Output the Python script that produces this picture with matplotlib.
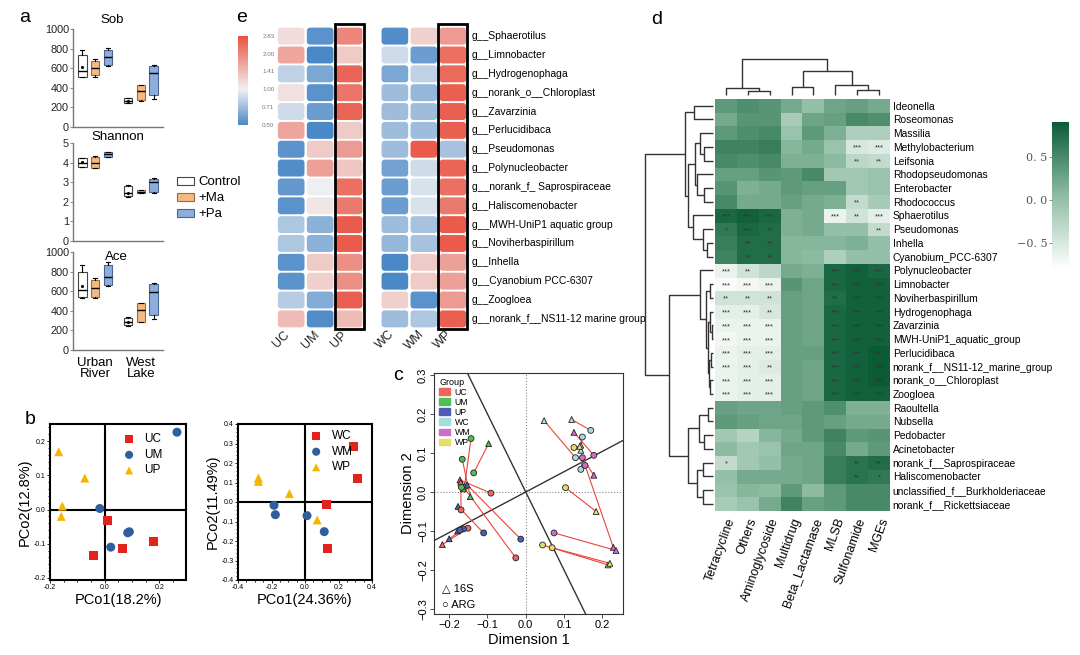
import matplotlib
matplotlib.use("Agg")
import matplotlib.pyplot as plt
import numpy as np
from matplotlib.colors import LinearSegmentedColormap, Normalize
from matplotlib.patches import FancyBboxPatch, Patch, Rectangle
from matplotlib.cm import ScalarMappable

W, H = 1080, 655
plt.rcParams['font.family'] = ['Liberation Sans', 'DejaVu Sans']
NARROW = ['Liberation Sans Narrow', 'Liberation Sans', 'DejaVu Sans']

# ---------------- panel a: alpha diversity boxes ----------------
sites = ['Urban\nRiver', 'West\nLake']
treatments = ['Control', '+Ma', '+Pa']
trt_fill = ['white', '#F6B97F', '#8DAEDC']
trt_edge = ['#444444', '#9A6A3A', '#4A6590']
# (whislo, q1, median, q3, whishi[, mean]) for Urban River, West Lake
sob_control = [(513, 514, 571, 735, 786, 615), (242, 245, 268, 293, 296, 270)]
sob_ma = [(513, 530, 598, 673, 694), (265, 276, 371, 429, 432)]
sob_pa = [(622, 633, 711, 786, 809), (283, 327, 548, 626, 630)]
shannon_control = [(3.77, 3.79, 4.0, 4.22, 4.25, 4.02), (2.25, 2.3, 2.45, 2.8, 2.85, 2.45)]
shannon_ma = [(3.71, 3.71, 3.96, 4.3, 4.36), (2.45, 2.46, 2.52, 2.6, 2.62)]
shannon_pa = [(4.3, 4.3, 4.42, 4.52, 4.55), (2.43, 2.52, 3.0, 3.16, 3.2)]
ace_control = [(527, 544, 612, 799, 867, 653), (245, 255, 289, 323, 340, 290)]
ace_ma = [(527, 544, 629, 714, 738), (282, 285, 408, 476, 483)]
ace_pa = [(653, 663, 748, 867, 898), (313, 357, 588, 673, 683)]

# ---------------- panel b: PCoA ----------------
uc_x = [0.009, -0.04, 0.066, 0.177]
uc_y = [-0.032, -0.133, -0.114, -0.093]
um_x = [-0.018, 0.022, 0.084, 0.09, 0.264]
um_y = [0.003, -0.11, -0.068, -0.065, 0.226]
up_x = [-0.168, -0.073, -0.155, -0.159]
up_y = [0.169, 0.092, 0.01, -0.02]
wc_x = [0.288, 0.314, 0.129, 0.137]
wc_y = [0.287, 0.12, -0.013, -0.241]
wm_x = [-0.185, -0.177, 0.012, 0.115]
wm_y = [-0.017, -0.065, -0.07, -0.152]
wp_x = [-0.278, -0.278, -0.093, 0.073]
wp_y = [0.123, 0.106, 0.043, -0.092]

# ---------------- panel c: Procrustes ----------------
c_groups = ['UC', 'UM', 'UP', 'WC', 'WM', 'WP']
c_colors = ['#EE655B', '#4FBE55', '#4B5EB4', '#A3DEDD', '#CF6BCB', '#E4DE62']
c_group_idx = [0, 0, 0, 0, 1, 1, 1, 1, 2, 2, 2, 2, 3, 3, 3, 3, 4, 4, 4, 4, 5, 5, 5, 5]
c_16s_x = [-0.172, -0.168, -0.218, -0.17, -0.16, -0.097, -0.145, -0.163,
           -0.153, -0.177, -0.2, -0.178, 0.048, 0.12, 0.144, 0.144,
           0.126, 0.178, 0.229, 0.236, 0.184, 0.215, 0.22, 0.141]
c_16s_y = [0.031, 0.02, -0.135, 0.025, 0.015, 0.124, -0.012, 0.008,
           0.018, -0.037, -0.12, -0.1, 0.183, 0.186, 0.107, 0.12,
           0.153, 0.043, -0.142, -0.15, -0.05, -0.187, -0.183, 0.117]
c_arg_x = [-0.091, -0.026, -0.151, -0.169, -0.143, -0.136, -0.166, -0.168,
           -0.013, -0.11, -0.163, -0.172, 0.13, 0.17, 0.144, 0.148,
           0.178, 0.148, 0.155, 0.074, 0.104, 0.044, 0.069, 0.126]
c_arg_y = [-0.003, -0.169, -0.093, -0.046, 0.137, 0.049, 0.084, 0.012,
           -0.121, -0.105, -0.095, -0.098, 0.088, 0.158, 0.058, 0.141,
           0.094, 0.088, 0.068, -0.105, 0.011, -0.136, -0.143, 0.114]

# ---------------- panel e: fold-change heatmaps (log2) ----------------
e_genera = ['g__Sphaerotilus', 'g__Limnobacter', 'g__Hydrogenophaga', 'g__norank_o__Chloroplast',
            'g__Zavarzinia', 'g__Perlucidibaca', 'g__Pseudomonas', 'g__Polynucleobacter',
            'g__norank_f_ Saprospiraceae', 'g__Haliscomenobacter', 'g__MWH-UniP1 aquatic group',
            'g__Noviherbaspirillum', 'g__Inhella', 'g__Cyanobium PCC-6307', 'g__Zoogloea',
            'g__norank_f__NS11-12 marine group']
e_urban_cols = ['UC', 'UM', 'UP']
e_west_cols = ['WC', 'WM', 'WP']
e_urban = [[0.2, -0.9, 1.0], [0.7, -1.0, 0.35], [-0.3, -0.7, 1.3], [0.15, -0.9, 1.15],
           [-0.2, -0.8, 1.3], [0.7, -1.0, 0.35], [-0.9, 0.35, 0.8], [-0.95, 0.75, 0.4],
           [-0.85, -0.02, 1.2], [-0.9, 0.1, 1.1], [-0.4, -0.6, 1.4], [-0.4, -0.6, 1.4],
           [-0.9, 0.35, 0.9], [-0.9, 0.3, 0.9], [-0.35, -0.65, 1.35], [0.5, -0.95, 0.5]]
e_west = [[-0.95, 0.3, 0.8], [-0.2, -0.8, 1.2], [-0.7, -0.3, 1.25], [-0.5, -0.55, 1.35],
          [-0.5, -0.5, 1.35], [-0.5, -0.5, 1.35], [-0.5, 1.4, -0.45], [-0.75, -0.2, 1.3],
          [-0.8, -0.15, 1.2], [-0.8, -0.15, 1.1], [-0.5, -0.45, 1.4], [-0.55, -0.45, 1.4],
          [-1.0, 0.35, 0.75], [-1.0, 0.35, 0.75], [0.3, -0.9, 0.8], [-0.5, -0.4, 1.35]]
e_ticks = [-1, -0.5, 0, 0.5, 1, 1.5]
e_tick_labels = ['0.50', '0.71', '1.00', '1.41', '2.00', '2.83']

# ---------------- panel d: correlation clustermap ----------------
d_genera = ['Ideonella', 'Roseomonas', 'Massilia', 'Methylobacterium', 'Leifsonia',
            'Rhodopseudomonas', 'Enterobacter', 'Rhodococcus', 'Sphaerotilus', 'Pseudomonas',
            'Inhella', 'Cyanobium_PCC-6307', 'Polynucleobacter', 'Limnobacter',
            'Noviherbaspirillum', 'Hydrogenophaga', 'Zavarzinia', 'MWH-UniP1_aquatic_group',
            'Perlucidibaca', 'norank_f__NS11-12_marine_group', 'norank_o__Chloroplast',
            'Zoogloea', 'Raoultella', 'Nubsella', 'Pedobacter', 'Acinetobacter',
            'norank_f__Saprospiraceae', 'Haliscomenobacter', 'unclassified_f__Burkholderiaceae',
            'norank_f__Rickettsiaceae']
d_args = ['Tetracycline', 'Others', 'Aminoglycoside', 'Multidrug', 'Beta_Lactamase',
          'MLSB', 'Sulfonamide', 'MGEs']
d_corr = [
    [0.35, 0.45, 0.4, 0.2, 0.0, 0.25, 0.3, 0.2],
    [0.2, 0.4, 0.4, -0.15, 0.25, 0.3, 0.5, 0.45],
    [0.35, 0.45, 0.5, -0.05, 0.35, 0.15, -0.2, -0.2],
    [0.55, 0.55, 0.6, 0.1, 0.2, -0.05, -0.5, -0.55],
    [0.5, 0.45, 0.5, 0.15, 0.15, 0.05, -0.3, -0.35],
    [0.3, 0.3, 0.4, 0.35, 0.5, -0.1, -0.1, -0.05],
    [0.4, 0.15, 0.2, 0.35, 0.3, 0.3, -0.1, -0.05],
    [0.5, 0.2, 0.2, 0.3, 0.2, 0.15, -0.35, -0.15],
    [0.8, 0.85, 0.8, 0.15, 0.2, -0.65, -0.45, -0.6],
    [0.65, 0.8, 0.75, 0.15, 0.2, 0.0, 0.0, -0.35],
    [0.6, 0.75, 0.75, 0.1, 0.1, 0.1, 0.15, 0.0],
    [0.55, 0.75, 0.75, 0.1, 0.05, -0.2, 0.0, 0.0],
    [-0.65, -0.45, -0.3, 0.2, 0.15, 0.8, 0.85, 0.8],
    [-0.75, -0.7, -0.65, 0.4, 0.25, 0.8, 0.85, 0.85],
    [-0.45, -0.45, -0.45, 0.3, 0.25, 0.75, 0.85, 0.85],
    [-0.6, -0.6, -0.5, 0.3, 0.25, 0.8, 0.85, 0.85],
    [-0.65, -0.65, -0.65, 0.3, 0.25, 0.8, 0.85, 0.85],
    [-0.7, -0.65, -0.65, 0.3, 0.25, 0.8, 0.85, 0.85],
    [-0.65, -0.6, -0.6, 0.3, 0.3, 0.8, 0.85, 0.9],
    [-0.65, -0.6, -0.55, 0.3, 0.25, 0.8, 0.85, 0.9],
    [-0.65, -0.6, -0.6, 0.3, 0.25, 0.8, 0.85, 0.9],
    [-0.65, -0.6, -0.6, 0.3, 0.25, 0.8, 0.85, 0.85],
    [0.3, 0.25, 0.25, 0.3, 0.35, 0.45, 0.15, 0.15],
    [0.35, 0.3, 0.25, 0.25, 0.35, 0.3, 0.2, 0.2],
    [-0.1, -0.25, 0.1, 0.2, 0.35, 0.55, 0.35, 0.4],
    [0.05, -0.1, -0.05, 0.25, 0.25, 0.5, 0.2, 0.35],
    [-0.35, -0.1, 0.0, 0.2, 0.25, 0.6, 0.7, 0.75],
    [0.0, 0.2, 0.2, 0.2, 0.25, 0.6, 0.7, 0.65],
    [-0.05, 0.1, 0.05, 0.35, 0.05, 0.35, 0.5, 0.5],
    [-0.15, -0.05, 0.2, 0.55, 0.3, 0.35, 0.5, 0.5],
]
S3, S2, S1 = '***', '**', '*'
d_stars = [['']*8 for _ in range(30)]
d_stars[3][6:8] = [S3, S3]
d_stars[4][6:8] = [S2, S2]
d_stars[7][6] = S2
d_stars[8] = [S3, S3, S3, '', '', S3, S2, S3]
d_stars[9] = [S1, S3, S2, '', '', '', '', S2]
d_stars[10] = ['', S2, S2, '', '', '', '', '']
d_stars[11] = ['', S2, S2, '', '', '', '', '']
d_stars[12] = [S3, S2, '', '', '', S3, S3, S3]
d_stars[13] = [S3, S3, S3, '', '', S3, S3, S3]
d_stars[14] = [S2, S2, S2, '', '', S2, S3, S3]
d_stars[15] = [S3, S3, S2, '', '', S3, S3, S3]
d_stars[16] = [S3, S3, S3, '', '', S3, S3, S3]
d_stars[17] = [S3, S3, S3, '', '', S3, S3, S3]
d_stars[18] = [S3, S3, S3, '', '', S3, S3, S3]
d_stars[19] = [S3, S3, S2, '', '', S3, S3, S3]
d_stars[20] = [S3, S3, S3, '', '', S3, S3, S3]
d_stars[21] = [S3, S3, S3, '', '', S3, S3, S3]
d_stars[26] = [S1, '', '', '', '', '', S2, S2]
d_stars[27] = ['', '', '', '', '', '', S2, S1]

# dendrograms: (left, right, height)
top_a = (0, 1, 0.28)
top_b = ((2, (3, 4, 0.13), 0.19), (5, (6, 7, 0.13), 0.24), 0.26)
top_c = (8, (9, (10, 11, 0.09), 0.15), 0.29)
sig_grp = (12, ((13, 14, 0.05), ((15, (16, 17, 0.02), 0.05),
                                 ((18, 19, 0.03), (20, 21, 0.04), 0.06), 0.08), 0.10), 0.19)
low_grp = (((22, 23, 0.07), (24, 25, 0.13), 0.21), ((26, 27, 0.15), (28, 29, 0.15), 0.24), 0.37)
row_tree = ((top_a, (top_b, top_c, 0.37), 0.41), (sig_grp, low_grp, 0.65), 1.0)
col_tree = ((0, (1, 2, 0.12), 0.2), ((3, 4, 0.23), (5, (6, 7, 0.14), 0.28), 0.67), 1.0)


def box(l, t, r, b):
    return [l / W, 1 - b / H, (r - l) / W, (b - t) / H]


def draw_tree(ax, node, orient):
    if isinstance(node, int):
        return node + 0.5, 0.0
    left, right, h = node
    pl, hl = draw_tree(ax, left, orient)
    pr, hr = draw_tree(ax, right, orient)
    pos = [pl, pl, pr, pr]
    hs = [hl, h, h, hr]
    if orient == 'top':
        ax.plot(pos, hs, color='#333333', lw=1.0, solid_capstyle='butt')
    else:
        ax.plot(hs, pos, color='#333333', lw=1.0, solid_capstyle='butt')
    return (pl + pr) / 2, h


def main():
    fig = plt.figure(figsize=(W / 100, H / 100), dpi=100)

    # panel letters
    for letter, (x, y) in zip('abecd', [(25, 17), (30, 420), (242, 17), (398, 376), (657, 20)]):
        fig.text(x / W, 1 - y / H, letter, fontsize=14, ha='center', va='center')

    # ---- a ----
    metrics = [('Sob', [sob_control, sob_ma, sob_pa], (29, 127), 1000, [0, 200, 400, 600, 800, 1000], (0.43, 1.09)),
               ('Shannon', [shannon_control, shannon_ma, shannon_pa], (143, 241), 5, [0, 1, 2, 3, 4, 5], (0.5, 1.06)),
               ('Ace', [ace_control, ace_ma, ace_pa], (252, 350), 1000, [0, 200, 400, 600, 800, 1000], (0.48, 0.95))]
    site_x = np.array([1.0, 2.0])
    offsets = [-0.28, 0.0, 0.28]
    for m, (title, groups, (t, b), ymax, ticks, tpos) in enumerate(metrics):
        ax = fig.add_axes(box(73, t, 163, b))
        for k, stats in enumerate(groups):
            dicts = [dict(whislo=s[0], q1=s[1], med=s[2], q3=s[3], whishi=s[4], fliers=[],
                          mean=s[5] if len(s) > 5 else s[2]) for s in stats]
            ax.bxp(dicts, positions=site_x + offsets[k], widths=0.19, patch_artist=True,
                   showmeans=len(stats[0]) > 5, capwidths=0.1,
                   boxprops=dict(facecolor=trt_fill[k], edgecolor=trt_edge[k], lw=0.8),
                   medianprops=dict(color='black', lw=1.0),
                   whiskerprops=dict(color='black', lw=0.8),
                   capprops=dict(color='black', lw=0.8),
                   meanprops=dict(marker='.', markersize=2.5, markerfacecolor='black',
                                  markeredgecolor='black'))
        ax.set_xlim(0.52, 2.48)
        ax.set_ylim(0, ymax)
        ax.set_yticks(ticks)
        for s in ['top', 'right']:
            ax.spines[s].set_visible(False)
        for s in ['left', 'bottom']:
            ax.spines[s].set_color('#777777')
            ax.spines[s].set_linewidth(1.0)
        ax.tick_params(axis='y', labelsize=7.8, length=2, width=0.6, color='#777777', pad=1,
                       labelcolor='#222222')
        if m == 2:
            ax.set_xticks(site_x)
            ax.set_xticklabels(sites, fontsize=9.5, linespacing=0.85)
            ax.tick_params(axis='x', length=0, pad=5)
        else:
            ax.set_xticks([])
        ax.text(tpos[0], tpos[1], title, transform=ax.transAxes, ha='center', va='center',
                fontsize=9.5)
    handles = [Patch(facecolor=f, edgecolor=e, lw=0.8) for f, e in zip(trt_fill, trt_edge)]
    fig.legend(handles, treatments, loc='upper left', bbox_to_anchor=(172 / W, 1 - 171 / H),
               frameon=False, fontsize=9.5, handlelength=1.3, handleheight=0.55,
               labelspacing=0.3, handletextpad=0.3, borderaxespad=0)

    # ---- b ----
    b_sets = [((50, 424, 186, 580), (-0.2, 0.297), (-0.206, 0.25),
               [-0.2, 0.0, 0.2], [-0.2, -0.1, 0.0, 0.1, 0.2],
               [(uc_x, uc_y, 's', 'UC'), (um_x, um_y, 'o', 'UM'), (up_x, up_y, '^', 'UP')],
               'PCo1(18.2%)', 'PCo2(12.8%)', (0.46, 0.97)),
              ((238, 424, 372, 580), (-0.4, 0.4), (-0.4, 0.4),
               [-0.4, -0.2, 0.0, 0.2, 0.4], [-0.4, -0.3, -0.2, -0.1, 0.0, 0.1, 0.2, 0.3, 0.4],
               [(wc_x, wc_y, 's', 'WC'), (wm_x, wm_y, 'o', 'WM'), (wp_x, wp_y, '^', 'WP')],
               'PCo1(24.36%)', 'PCo2(11.49%)', (0.46, 0.99))]
    mcols = ['#E3231E', '#2F5E9C', '#F7B500']
    for rect, xl, yl, xt, yt, series, xlab, ylab, lpos in b_sets:
        ax = fig.add_axes(box(*rect))
        ax.axhline(0, color='black', lw=1.5, zorder=1)
        ax.axvline(0, color='black', lw=1.5, zorder=1)
        for (xs, ys, mk, lab), col in zip(series, mcols):
            ax.scatter(xs, ys, marker=mk, s=42, color=col, edgecolors='none', label=lab, zorder=3)
        ax.set_xlim(*xl)
        ax.set_ylim(*yl)
        ax.set_xticks(xt)
        ax.set_yticks(yt)
        ax.set_xticklabels([f'{v:.1f}' for v in xt])
        ax.set_yticklabels([f'{v:.1f}' for v in yt])
        ax.minorticks_on()
        ax.tick_params(which='both', labelsize=5, length=2, width=0.6, pad=1, direction='out')
        ax.tick_params(which='minor', length=1.2)
        for s in ax.spines.values():
            s.set_linewidth(1.5)
        ax.set_xlabel(xlab, fontsize=10.5, labelpad=1)
        ax.set_ylabel(ylab, fontsize=10.5, labelpad=1)
        ax.legend(loc='upper left', bbox_to_anchor=lpos, frameon=False, fontsize=8.5,
                  handletextpad=0.3, labelspacing=0.3, markerscale=0.9, borderaxespad=0)

    # ---- e ----
    ax = fig.add_axes(box(275, 22, 469, 330))
    ncol_px, nrow_px = 28.9, 18.85
    ax.set_xlim(-(276.7 - 275) / ncol_px, 6.58 + (469 - 467.3) / ncol_px)
    ax.set_ylim(16 + (330 - 328.3) / nrow_px, -(26.7 - 22) / nrow_px)
    ax.axis('off')
    e_cmap = LinearSegmentedColormap.from_list(
        'e', [(0.0, '#4A88C8'), (0.4, '#F1F1F1'), (1.0, '#E9503F')])
    e_norm = Normalize(-1, 1.5)
    x0s = [0.0, 3.58]
    for x0, vals, cols in [(x0s[0], e_urban, e_urban_cols), (x0s[1], e_west, e_west_cols)]:
        for i, row in enumerate(vals):
            for j, v in enumerate(row):
                ax.add_patch(FancyBboxPatch((x0 + j + 0.04, i + 0.05), 0.92, 0.9,
                                            boxstyle='round,pad=0,rounding_size=0.12',
                                            mutation_aspect=ncol_px / nrow_px,
                                            facecolor=e_cmap(e_norm(v)), edgecolor='none'))
        ax.add_patch(Rectangle((x0 + 2, -0.15), 1.0, 16.2, fill=False, edgecolor='black',
                               lw=2, clip_on=False))
        for j, c in enumerate(cols):
            ax.text(x0 + j + 0.17, 16.6, c, rotation=45, ha='center', va='center', fontsize=9,
                    color='#222222')
    for i, g in enumerate(e_genera):
        ax.text(6.73, i + 0.5, g, fontsize=7.5, va='center', ha='left', family=NARROW)
    cax = fig.add_axes(box(238.3, 35.7, 248.3, 125))
    cb = fig.colorbar(ScalarMappable(e_norm, e_cmap), cax=cax)
    cb.outline.set_visible(False)
    cb.set_ticks(e_ticks)
    cb.set_ticklabels(e_tick_labels)
    cax.tick_params(labelsize=4.5, length=0, pad=10, labelcolor='#777777')

    # ---- c ----
    ax = fig.add_axes(box(434.3, 372.7, 623.3, 614))
    ax.axhline(0, color='#888888', lw=0.8, ls=':')
    ax.axvline(0, color='#888888', lw=0.8, ls=':')
    ax.axline((0, 0), slope=0.52, color='#333333', lw=1.0)
    ax.axline((0, 0), slope=-2.0, color='#333333', lw=1.0)
    for k in range(len(c_group_idx)):
        ax.plot([c_16s_x[k], c_arg_x[k]], [c_16s_y[k], c_arg_y[k]], color='#E8453C', lw=0.8,
                zorder=2)
    cols = [c_colors[g] for g in c_group_idx]
    ax.scatter(c_16s_x, c_16s_y, marker='^', s=18, c=cols, edgecolors='#222222',
               linewidths=0.6, zorder=3)
    ax.scatter(c_arg_x, c_arg_y, marker='o', s=18, c=cols, edgecolors='#222222',
               linewidths=0.6, zorder=3)
    ax.set_xlim(-0.239, 0.255)
    ax.set_ylim(-0.313, 0.306)
    ax.set_xticks([-0.2, -0.1, 0.0, 0.1, 0.2])
    ax.set_yticks([-0.3, -0.2, -0.1, 0.0, 0.1, 0.2, 0.3])
    ax.set_xticklabels(['\u22120.2', '\u22120.1', '0.0', '0.1', '0.2'])
    ax.set_yticklabels(['\u22120.3', '\u22120.2', '\u22120.1', '0.0', '0.1', '0.2', '0.3'],
                       rotation=90, va='center')
    ax.tick_params(labelsize=8, length=3, width=0.6, pad=1.5, color='#333333')
    for s in ax.spines.values():
        s.set_linewidth(0.8)
        s.set_color('#333333')
    ax.set_xlabel('Dimension 1', fontsize=10.5, labelpad=2)
    ax.set_ylabel('Dimension 2', fontsize=10.5, labelpad=2)
    ax.legend([Patch(color=c) for c in c_colors], c_groups, title='Group',
              loc='upper left', frameon=False, fontsize=6.3, title_fontsize=6.5,
              handlelength=1.3, handleheight=0.75, labelspacing=0.12,
              handletextpad=0.5, borderaxespad=0.15, alignment='left')
    ax.text(0.04, 0.108, '\u25b3 16S', transform=ax.transAxes, fontsize=8, va='center')
    ax.text(0.04, 0.037, '\u25cb ARG', transform=ax.transAxes, fontsize=8, va='center')

    # ---- d ----
    d_cmap = LinearSegmentedColormap.from_list('d', ['#FFFFFF', '#8DBBA2', '#0A5C36'])
    d_norm = Normalize(-0.8, 0.91)
    hax = fig.add_axes(box(715, 98.7, 890, 510.7))
    hax.imshow(np.array(d_corr), cmap=d_cmap, norm=d_norm, aspect='auto',
               extent=(0, 8, 30, 0), interpolation='nearest')
    for i in range(30):
        for j in range(8):
            if d_stars[i][j]:
                hax.text(j + 0.5, i + 0.6, d_stars[i][j], ha='center', va='center',
                         fontsize=5.5, color='#333333')
    hax.set_xlim(0, 8)
    hax.set_ylim(30, 0)
    hax.yaxis.tick_right()
    hax.set_yticks(np.arange(30) + 0.5)
    hax.set_yticklabels(d_genera, fontsize=7.4, family=NARROW)
    hax.set_xticks(np.arange(8) + 0.5)
    hax.set_xticklabels(d_args, rotation=70, ha='right', rotation_mode='anchor', fontsize=9)
    hax.tick_params(length=0, pad=2)
    hax.tick_params(axis='x', pad=4)
    for s in hax.spines.values():
        s.set_visible(False)

    cdax = fig.add_axes(box(715, 55, 890, 97))
    draw_tree(cdax, col_tree, 'top')
    cdax.set_xlim(0, 8)
    cdax.set_ylim(-2 / 35.7, 40 / 35.7)
    cdax.axis('off')

    rdax = fig.add_axes(box(640, 98.7, 714, 510.7))
    draw_tree(rdax, row_tree, 'left')
    rdax.set_ylim(30, 0)
    rdax.set_xlim(1 + 5 / 68, -1 / 68)
    rdax.axis('off')

    dcax = fig.add_axes(box(1051.7, 121.7, 1069.3, 268.3))
    cb = fig.colorbar(ScalarMappable(d_norm, d_cmap), cax=dcax)
    cb.outline.set_visible(False)
    cb.set_ticks([-0.5, 0.0, 0.5])
    cb.set_ticklabels(['\u22120. 5', '0. 0', '0. 5'])
    dcax.yaxis.set_ticks_position('left')
    dcax.tick_params(labelsize=8, length=2, width=0.6, color='#777777', labelcolor='#555555',
                     pad=1)
    for t in dcax.get_yticklabels():
        t.set_family('DejaVu Serif')

    fig.savefig('out.png', dpi=100)


if __name__ == '__main__':
    main()
